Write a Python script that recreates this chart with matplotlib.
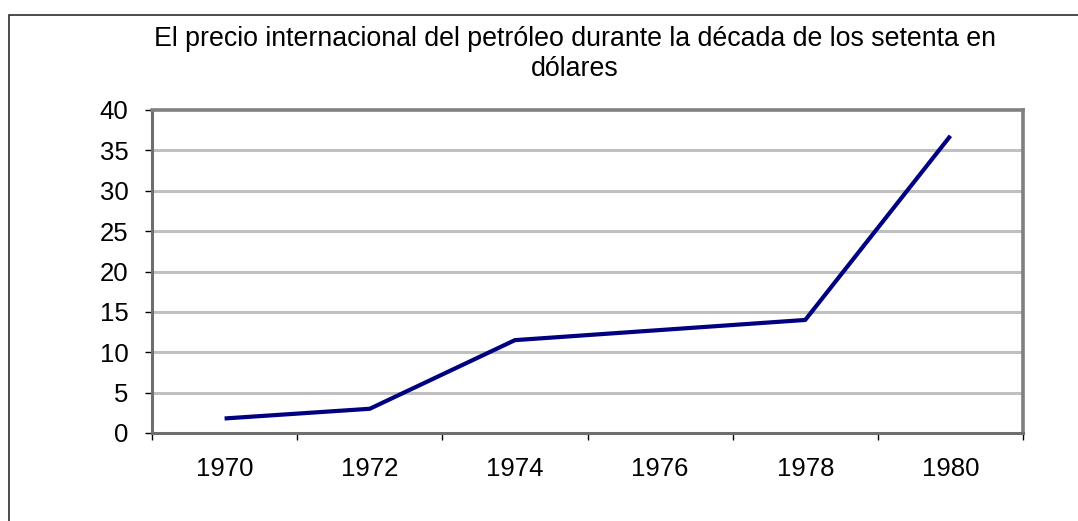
import numpy as np
import matplotlib
matplotlib.use("Agg")
import matplotlib.pyplot as plt
from matplotlib.patches import Rectangle

years = ["1970", "1972", "1974", "1976", "1978", "1980"]
prices = [1.8, 3.0, 11.5, np.nan, 14.0, 36.8]
yticks = [0, 5, 10, 15, 20, 25, 30, 35, 40]
title = "El precio internacional del petróleo durante la década de los setenta en\ndólares"

plt.rcParams['font.family'] = ['Liberation Sans', 'DejaVu Sans']

W, H = 1078, 521
fig = plt.figure(figsize=(W / 100, H / 100), dpi=100)
fig.patch.set_facecolor('white')

# outer chart border (clipped at right and bottom)
fig.patches.append(Rectangle((9 / W, -0.2), 1.2, 1 - 15 / H + 0.2, transform=fig.transFigure,
                             fill=False, edgecolor='#1a1a1a', linewidth=1.1, clip_on=False))

left, right, top, bottom = 152, 1023, 110, 433
ax = fig.add_axes([left / W, 1 - bottom / H, (right - left) / W, (bottom - top) / H])

x = np.arange(len(years))
vals = np.array(prices, dtype=float)
mask = ~np.isnan(vals)
for yv in yticks[1:-1]:
    ax.axhline(yv, color='#C0C0C0', linewidth=2.2, zorder=1)
ax.plot(x[mask], vals[mask], color='#000080', linewidth=3.0, zorder=3, solid_capstyle='butt')

ax.set_xlim(-0.5, len(years) - 0.5)
ax.set_ylim(0, 40)
ax.set_yticks(yticks)
ax.set_yticklabels([str(v) for v in yticks], fontsize=18.5)
ax.set_xticks(np.arange(len(years) + 1) - 0.5)
ax.set_xticklabels([])
ax.set_xticks(x, minor=True)
ax.set_xticklabels(years, minor=True, fontsize=18.5)
ax.tick_params(axis='x', which='major', direction='out', length=5, width=1, color='black')
ax.tick_params(axis='x', which='minor', length=0, pad=17)
ax.tick_params(axis='y', direction='out', length=5, width=1, color='black', pad=12)

for s in ['top', 'right']:
    ax.spines[s].set_color('#808080')
    ax.spines[s].set_linewidth(2.6)
ax.spines['left'].set_color('#6e6e6e')
ax.spines['left'].set_linewidth(2.2)
ax.spines['bottom'].set_color('#6e6e6e')
ax.spines['bottom'].set_linewidth(2.2)

fig.text(575 / W, 1 - 54 / H, title, ha='center', va='center', fontsize=19.3,
         linespacing=1.15, color='black')

fig.savefig('out.png', dpi=100, facecolor='white')
